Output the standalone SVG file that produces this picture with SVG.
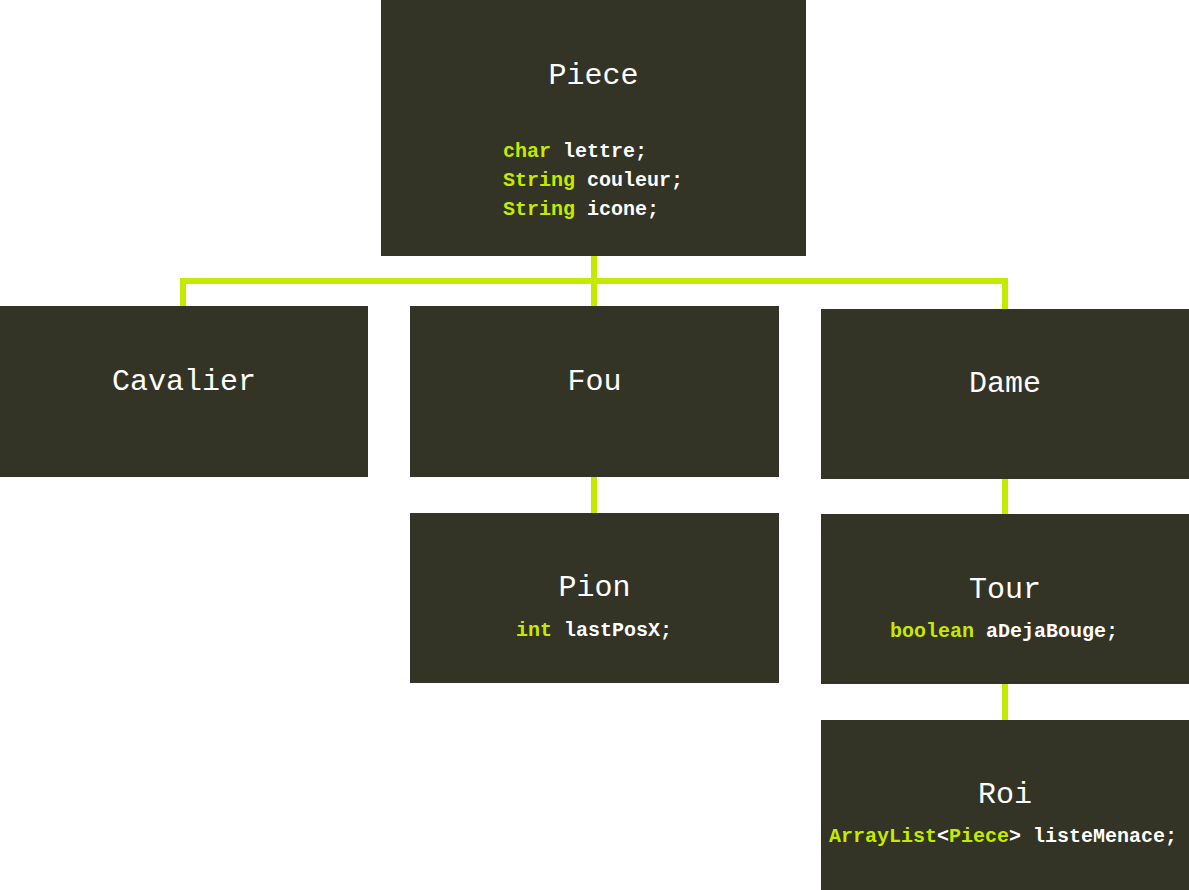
<svg xmlns="http://www.w3.org/2000/svg" width="1189" height="890" viewBox="0 0 1189 890">
<style>
.box{fill:#333326}
.t{font-family:"Liberation Mono","DejaVu Sans Mono",monospace;font-size:30px;fill:#ffffff;text-anchor:middle}
.c{font-family:"Liberation Mono","DejaVu Sans Mono",monospace;font-size:20px;font-weight:bold;fill:#ffffff}
.k{fill:#c4ea00}
.ln{stroke:#c4ea00;stroke-width:6;fill:none}
</style>
<rect width="1189" height="890" fill="#ffffff"/>
<g id="connectors">
<path class="ln" d="M594 256V281M183 306V281H1005V309M594 281V306M594 477V513M1005 479V514M1005 684V720"/>
</g>
<g id="piece">
<rect class="box" x="381" y="0" width="425" height="256"/>
<text class="t" x="593.5" y="84">Piece</text>
<text class="c" x="503" y="157"><tspan class="k">char</tspan> lettre;</text>
<text class="c" x="503" y="186"><tspan class="k">String</tspan> couleur;</text>
<text class="c" x="503" y="215"><tspan class="k">String</tspan> icone;</text>
</g>
<g id="cavalier">
<rect class="box" x="0" y="306" width="368" height="171"/>
<text class="t" x="184" y="390">Cavalier</text>
</g>
<g id="fou">
<rect class="box" x="410" y="306" width="369" height="171"/>
<text class="t" x="594.5" y="390">Fou</text>
</g>
<g id="dame">
<rect class="box" x="821" y="309" width="368" height="170"/>
<text class="t" x="1005" y="392">Dame</text>
</g>
<g id="pion">
<rect class="box" x="410" y="513" width="369" height="170"/>
<text class="t" x="594.5" y="596">Pion</text>
<text class="c" x="594" y="636" text-anchor="middle"><tspan class="k">int</tspan> lastPosX;</text>
</g>
<g id="tour">
<rect class="box" x="821" y="514" width="368" height="170"/>
<text class="t" x="1005" y="598">Tour</text>
<text class="c" x="1004" y="637" text-anchor="middle"><tspan class="k">boolean</tspan> aDejaBouge;</text>
</g>
<g id="roi">
<rect class="box" x="821" y="720" width="368" height="170"/>
<text class="t" x="1005" y="803">Roi</text>
<text class="c" x="1003" y="842" text-anchor="middle"><tspan class="k">ArrayList</tspan>&lt;<tspan class="k">Piece</tspan>&gt; listeMenace;</text>
</g>
</svg>
